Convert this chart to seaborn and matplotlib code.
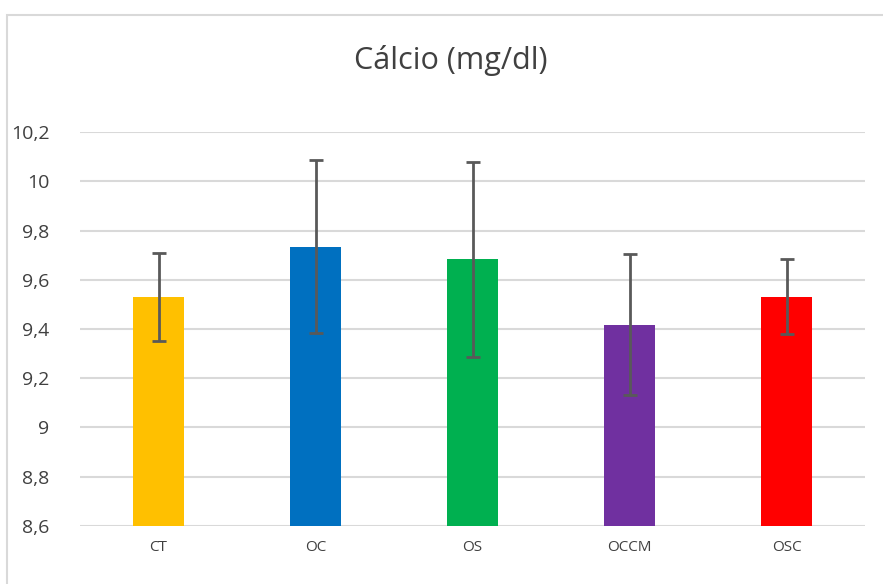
import matplotlib
matplotlib.use("Agg")
import matplotlib.pyplot as plt
import seaborn as sns
import pandas as pd
from matplotlib.patches import Rectangle
from matplotlib.ticker import FuncFormatter

groups = ["CT", "OC", "OS", "OCCM", "OSC"]
means = [9.531, 9.735, 9.683, 9.418, 9.531]
errors = [0.178, 0.352, 0.397, 0.287, 0.152]
colors = ["#FFC000", "#0070C0", "#00B050", "#7030A0", "#FF0000"]
y_ticks = [8.6, 8.8, 9.0, 9.2, 9.4, 9.6, 9.8, 10.0, 10.2]

df = pd.DataFrame({"Grupo": groups, "Cálcio": means})

sns.set_style("white")
plt.rcParams["font.family"] = ["Open Sans", "DejaVu Sans"]

fig = plt.figure(figsize=(8.83, 5.84), dpi=100)
ax = fig.add_axes([80 / 883, 1 - 525.7 / 584, 785 / 883, (525.7 - 132.3) / 584])

sns.barplot(data=df, x="Grupo", y="Cálcio", hue="Grupo", palette=colors,
            saturation=1, width=0.32, legend=False, ax=ax, zorder=2, linewidth=0)
ax.errorbar(range(len(groups)), means, yerr=errors, fmt="none",
            ecolor="#595959", elinewidth=2, capsize=5, capthick=2, zorder=3)

ax.set_ylim(8.6, 10.2)
ax.set_xlim(-0.5, 4.5)
ax.set_yticks(y_ticks)
ax.yaxis.set_major_formatter(FuncFormatter(lambda v, p: f"{v:g}".replace(".", ",")))
ax.grid(axis="y", color="#d9d9d9", linewidth=1.5, zorder=0)
ax.set_axisbelow(True)
for s in ax.spines.values():
    s.set_visible(False)
ax.set_xlabel("")
ax.set_ylabel("")
ax.tick_params(axis="y", labelsize=14, colors="#404040", length=0, pad=22)
ax.tick_params(axis="x", labelsize=11, colors="#404040", length=0, pad=10)

fig.text(0.51, 1 - 60 / 584, "Cálcio (mg/dl)", ha="center", va="center",
         fontsize=22, color="#404040")

fig.patches.append(Rectangle((7 / 883, -0.1), 1.2, 1.1 - 15 / 584,
                             transform=fig.transFigure, fill=False,
                             edgecolor="#d9d9d9", linewidth=1.5))

fig.savefig("out.png", dpi=100, facecolor="white")
